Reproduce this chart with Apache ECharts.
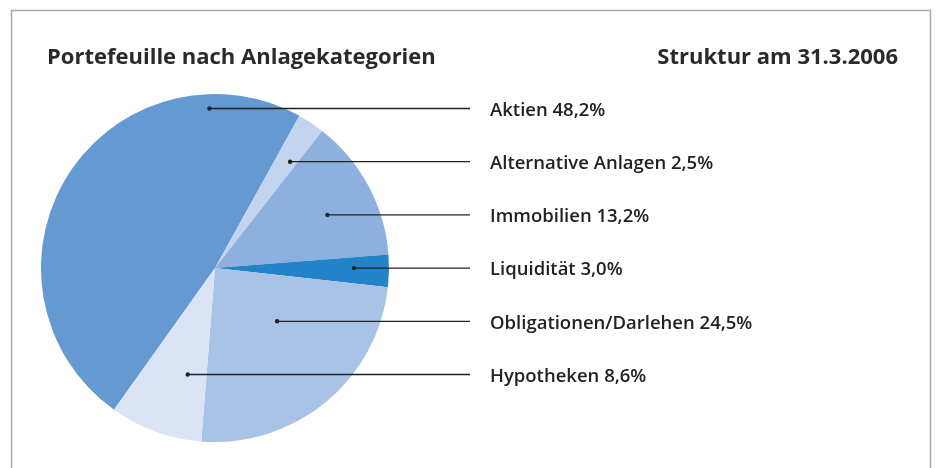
<!DOCTYPE html>
<html>
<head>
<meta charset="utf-8">
<script src="https://cdn.jsdelivr.net/npm/echarts@6/dist/echarts.min.js"></script>
<style>
  html, body { margin: 0; padding: 0; background: #fff; }
  #pie-chart { width: 936px; height: 468px; }
</style>
</head>
<body>
<div id="pie-chart"></div>
<script>
// Anteile in Prozent
var categories = ['Aktien', 'Alternative Anlagen', 'Immobilien', 'Liquidität', 'Obligationen/Darlehen', 'Hypotheken'];
var shares = [48.2, 2.5, 13.2, 3.0, 24.5, 8.6];
var colors = ['#6499d1', '#c3d4ee', '#8db0de', '#2383c8', '#a9c3e7', '#dbe4f5'];

var cx = 215, cy = 268, radius = 174;
var startAngle = -125.5;          // echarts: Grad gegen Uhrzeigersinn ab 3 Uhr
var labelTop = 108.5, labelStep = 53.2;
var lineEndX = 470, labelX = 490;
var anchorT = [0.46, 0.67, 0.57, 0.8, 0.39, 0.72];

// Winkel der Segmente (im Uhrzeigersinn ab 12 Uhr)
var total = shares.reduce(function (a, b) { return a + b; }, 0);
var wedges = [];
var acc = 90 - startAngle;
shares.forEach(function (v) {
    var a = v / total * 360;
    wedges.push([acc, acc + a]);
    acc += a;
});

function inWedge(x, y, w) {
    var dx = x - cx, dy = y - cy;
    if (dx * dx + dy * dy > radius * radius) return false;
    var ang = Math.atan2(dx, -dy) * 180 / Math.PI;
    while (ang < w[0]) ang += 360;
    return ang <= w[1];
}

// Ankerpunkt der Hinweislinie innerhalb des Segments
function anchorOf(i) {
    var y = labelTop + i * labelStep;
    var minX = null, maxX = null;
    for (var x = cx - radius; x <= cx + radius; x += 0.5) {
        if (inWedge(x, y, wedges[i])) {
            if (minX === null) minX = x;
            maxX = x;
        }
    }
    return [minX + anchorT[i] * (maxX - minX), y];
}

var anchors = categories.map(function (c, i) { return anchorOf(i); });

var chartDom = document.getElementById('pie-chart');
var myChart = echarts.init(chartDom);

var option = {
    animation: false,
    title: [
        {
            text: 'Portefeuille nach Anlagekategorien',
            left: 42,
            top: 42,
            textStyle: { fontFamily: 'Open Sans', fontSize: 22, fontWeight: 'bold', color: '#2a2a2a' }
        },
        {
            text: 'Struktur am 31.3.2006',
            right: 33,
            top: 42,
            textStyle: { fontFamily: 'Open Sans', fontSize: 22, fontWeight: 'bold', color: '#2a2a2a' }
        }
    ],
    graphic: [
        {
            type: 'polyline',
            shape: { points: [[11.5, 468], [11.5, 10.5], [930.5, 10.5], [930.5, 468]] },
            style: { stroke: '#a8a8a8', lineWidth: 1.5, fill: null },
            silent: true
        }
    ].concat(anchors.map(function (p) {
        return {
            type: 'polyline',
            shape: { points: [[p[0], p[1]], [lineEndX, p[1]]] },
            style: { stroke: '#222', lineWidth: 1.3, fill: null },
            z: 100,
            silent: true
        };
    })).concat(anchors.map(function (p) {
        return {
            type: 'circle',
            shape: { cx: p[0], cy: p[1], r: 2.2 },
            style: { fill: '#222' },
            z: 101,
            silent: true
        };
    })),
    series: [
        {
            type: 'pie',
            center: [cx, cy],
            radius: radius,
            startAngle: startAngle,
            clockwise: true,
            avoidLabelOverlap: false,
            data: categories.map(function (c, i) {
                return { name: c, value: shares[i], itemStyle: { color: colors[i] } };
            }),
            label: {
                show: true,
                formatter: function (p) {
                    return p.name + ' ' + p.value.toFixed(1).replace('.', ',') + '%';
                },
                fontFamily: 'Open Sans',
                fontSize: 18.5,
                fontWeight: 600,
                color: '#222'
            },
            labelLine: { show: false },
            labelLayout: function (params) {
                var a = anchors[params.dataIndex];
                return {
                    x: labelX,
                    y: a[1] + 2,
                    align: 'left',
                    verticalAlign: 'middle'
                };
            },
            emphasis: { disabled: true }
        }
    ]
};

myChart.setOption(option);

window.addEventListener('resize', function () {
    myChart.resize();
});
</script>
</body>
</html>
